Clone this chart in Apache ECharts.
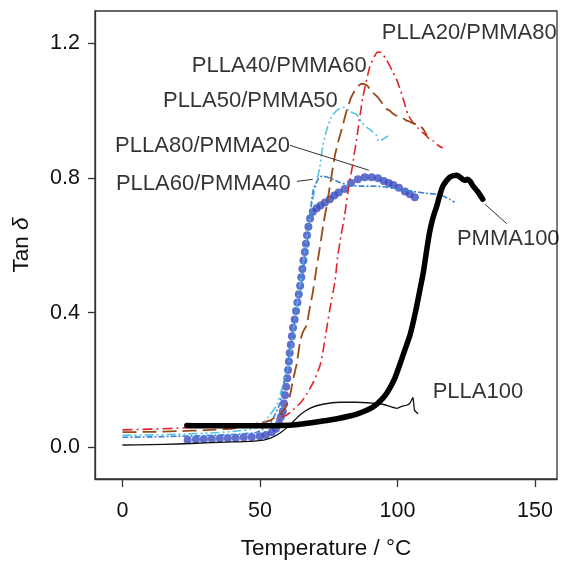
<!DOCTYPE html>
<html>
<head>
<meta charset="utf-8">
<script src="https://cdn.jsdelivr.net/npm/echarts@6/dist/echarts.min.js"></script>
<style>
  html, body { margin: 0; padding: 0; background: #fff; }
  #chart { width: 562px; height: 565px; }
</style>
</head>
<body>
<div id="chart"></div>
<script>
// Tan delta versus temperature for PLLA/PMMA blends
const xTicks = [0, 50, 100, 150];
const yTicks = [0.0, 0.4, 0.8, 1.2];

const plla20pmma80 = [[0,0.052],[10,0.054],[20,0.057],[30,0.061],[40,0.065],[48,0.07],[52,0.076],[56,0.084],[59.7,0.096],[62.5,0.115],[65,0.135],[67,0.158],[69.5,0.195],[71.7,0.24],[72.8,0.28],[74,0.34],[75.4,0.41],[77.2,0.49],[78.3,0.57],[79.5,0.63],[80.8,0.69],[82.2,0.77],[83.5,0.83],[85.2,0.92],[87.4,1.04],[89.9,1.13],[91.5,1.16],[92.8,1.174],[94,1.173],[96.1,1.15],[98,1.12],[99.8,1.09],[101.9,1.04],[103.7,0.99],[105.6,0.965],[107.5,0.948],[109.2,0.935],[110.5,0.925],[111.7,0.915],[113,0.91],[114.3,0.9],[115.5,0.893],[116.5,0.89]];

const plla40pmma60 = [[0,0.045],[10,0.046],[20,0.048],[30,0.051],[40,0.056],[48.8,0.066],[52,0.075],[54.7,0.085],[57,0.097],[58.3,0.107],[59.7,0.125],[60.8,0.15],[62,0.2],[63.4,0.25],[64.5,0.31],[65.5,0.34],[67,0.365],[68,0.41],[69.2,0.46],[70.5,0.53],[71.7,0.59],[73,0.66],[74.3,0.72],[75.4,0.775],[77.2,0.865],[78.5,0.91],[79.7,0.944],[81,0.985],[81.9,1.01],[83.2,1.04],[84.5,1.06],[86,1.075],[87.1,1.08],[88.9,1.075],[90.7,1.056],[92.8,1.04],[94.6,1.02],[96,1.005],[97.2,1.0],[98.5,0.99],[99.7,0.985],[101.9,0.978],[103,0.972],[104.5,0.967],[105.8,0.962],[107,0.96],[108,0.955],[108.8,0.95],[109.8,0.94],[110.7,0.925]];

const plla50pmma50 = [[0,0.036],[10,0.037],[20,0.039],[30,0.042],[40,0.047],[48.8,0.058],[52.5,0.085],[56.1,0.126],[58.3,0.185],[60,0.235],[61.2,0.29],[62,0.343],[63.8,0.44],[65.6,0.54],[67.4,0.64],[69.2,0.737],[70.5,0.785],[71.7,0.83],[72.8,0.894],[74.3,0.944],[76.1,0.983],[78.3,1.003],[80.8,1.01],[82.7,0.997],[85.2,0.988],[87,0.965],[88.9,0.95],[90.6,0.94],[92.5,0.925],[93,0.91],[94.7,0.915],[96.5,0.925]];

const plla60pmma40 = [[0,0.03],[10,0.031],[20,0.033],[30,0.035],[40,0.038],[48.8,0.045],[53.6,0.07],[57.2,0.13],[60.1,0.25],[62.7,0.38],[64.5,0.45],[65.6,0.52],[67,0.6],[68.3,0.7],[69.4,0.765],[71.2,0.797],[72.7,0.806],[75.4,0.8],[79,0.787],[82.7,0.778],[87,0.776],[91,0.776],[97.2,0.772],[101,0.766],[105.6,0.76],[110,0.755],[115.4,0.75],[119,0.737],[120.8,0.728]];

const plla80pmma20 = [[23.7,0.022],[26.7,0.023],[29.6,0.024],[32.5,0.025],[35.4,0.026],[38.3,0.027],[41.2,0.028],[44.1,0.03],[47,0.031],[49.9,0.033],[52.1,0.037],[54.3,0.045],[55.8,0.055],[56.9,0.07],[57.6,0.09],[58.3,0.107],[58.7,0.13],[59.1,0.155],[59.5,0.18],[59.9,0.205],[60.2,0.23],[60.5,0.255],[60.8,0.28],[61.2,0.305],[61.6,0.33],[62,0.355],[62.6,0.38],[63.1,0.405],[63.6,0.43],[64.1,0.455],[64.6,0.48],[65,0.505],[65.4,0.53],[65.8,0.555],[66.3,0.58],[66.7,0.605],[67.1,0.63],[67.6,0.655],[68.2,0.68],[69.2,0.7],[70.6,0.71],[72,0.718],[73.6,0.727],[75.4,0.737],[77,0.748],[78.6,0.757],[80.8,0.767],[83.1,0.785],[85.6,0.796],[88.1,0.802],[90.6,0.802],[92.9,0.799],[95,0.791],[96.8,0.785],[98.5,0.779],[100.5,0.771],[102.7,0.76],[104.5,0.752],[106.3,0.743]];

const plla100 = [[0,0.007],[10,0.008],[20,0.01],[30,0.013],[40,0.016],[48.8,0.019],[53.6,0.027],[57.2,0.042],[60.8,0.066],[64.5,0.096],[68.1,0.116],[72.8,0.128],[79,0.134],[85.2,0.134],[91,0.131],[94.6,0.128],[97.2,0.122],[99.7,0.116],[101.5,0.122],[103.3,0.125],[104.5,0.131],[105.6,0.148],[106.2,0.11],[107.5,0.1]];

const pmma100 = [[23.4,0.065],[30,0.064],[40,0.064],[50,0.064],[60.8,0.066],[66,0.07],[72.8,0.078],[78,0.085],[82.6,0.093],[86,0.101],[88.8,0.11],[91.5,0.122],[93.6,0.137],[95.5,0.154],[97.2,0.176],[99,0.205],[100.8,0.245],[102.7,0.29],[104.5,0.332],[105.8,0.375],[107,0.42],[108.2,0.47],[109.4,0.52],[110.6,0.585],[111.7,0.64],[113,0.685],[114.3,0.717],[115.4,0.75],[116.5,0.776],[117.8,0.792],[119,0.802],[120.3,0.807],[121.6,0.808],[122.7,0.803],[123.7,0.796],[124.6,0.793],[125.4,0.796],[126.4,0.79],[127.5,0.776],[129.3,0.758],[131,0.737]];

// curve labels anchored in data space: [text, x, y]
const labelsRight = [
  ['PLLA40/PMMA60', 88.8, 1.133],
  ['PLLA50/PMMA50', 78.3, 1.03],
  ['PLLA80/PMMA20', 60.9, 0.894],
  ['PLLA60/PMMA40', 61.2, 0.781]
];
const labelsLeft = [
  ['PLLA20/PMMA80', 94.3, 1.231],
  ['PMMA100', 121.6, 0.619],
  ['PLLA100', 112.8, 0.164]
];
// leader lines from labels to curves
const leaders = [
  [[60.9, 0.897], [89.6, 0.823]],
  [[63.4, 0.79], [69.2, 0.796]],
  [[131.8, 0.722], [139.8, 0.664]]
];

const FONT = '"Liberation Sans", Arial, Helvetica, sans-serif';
const TEXT = '#000';

function lineSeries(name, data, color, width, type, cap) {
  return {
    name, type: 'line', data, showSymbol: false, silent: true, smooth: 0.2,
    lineStyle: { color, width, type, cap: cap || 'butt', join: 'round' },
    animation: false
  };
}

const chart = echarts.init(document.getElementById('chart'), null, { renderer: 'canvas' });

chart.setOption({
  animation: false,
  backgroundColor: '#fff',
  grid: { left: 95, right: 5, top: 11, bottom: 84, show: true, borderColor: '#333', borderWidth: 1.3, backgroundColor: 'transparent' },
  xAxis: {
    type: 'value', min: -10, max: 158,
    splitLine: { show: false },
    axisLine: { show: true, onZero: false, lineStyle: { color: '#333', width: 1.3 } },
    axisTick: { show: true, length: 8, customValues: xTicks, lineStyle: { color: '#333', width: 1.3 } },
    axisLabel: { customValues: xTicks, fontSize: 21.5, fontFamily: FONT, color: '#111', margin: 21 },
    name: 'Temperature / °C', nameLocation: 'middle', nameGap: 58,
    nameTextStyle: { fontSize: 22.5, fontFamily: FONT, color: '#111' }
  },
  yAxis: {
    type: 'value', min: -0.094, max: 1.296,
    splitLine: { show: false },
    axisLine: { show: true, onZero: false, lineStyle: { color: '#333', width: 1.3 } },
    axisTick: { show: true, length: 7, customValues: yTicks, lineStyle: { color: '#333', width: 1.3 } },
    axisLabel: { customValues: yTicks, fontSize: 21.5, fontFamily: FONT, color: '#111', margin: 15,
      formatter: v => v.toFixed(1) },
    name: 'Tan {i|δ}', nameLocation: 'middle', nameGap: 62, nameRotate: 90,
    nameTextStyle: { fontSize: 22.5, fontFamily: FONT, color: '#111', padding: [0, 0, 0, 0],
      rich: { i: { fontSize: 22.5, fontFamily: FONT, fontStyle: 'italic', color: '#111' } } }
  },
  series: [
    lineSeries('PLLA20/PMMA80', plla20pmma80, '#e0262b', 1.6, [10, 4, 2, 4]),
    lineSeries('PLLA40/PMMA60', plla40pmma60, '#9a4a18', 1.8, [14, 6]),
    lineSeries('PLLA50/PMMA50', plla50pmma50, '#55c3e2', 1.6, [9, 3, 2, 3, 2, 3]),
    lineSeries('PLLA60/PMMA40', plla60pmma40, '#3b82d8', 1.6, [6, 2, 2, 2]),
    lineSeries('PLLA100', plla100, '#111', 1.3, 'solid'),
    {
      name: 'PLLA80/PMMA20', type: 'scatter', data: plla80pmma20, silent: true,
      symbol: 'circle', symbolSize: 8, itemStyle: { color: '#3a4cbf' }
    },
    lineSeries('PMMA100', pmma100, '#000', 5.5, 'solid', 'round'),
    {
      name: 'labelsR', type: 'scatter', silent: true, symbolSize: 0,
      data: labelsRight.map(d => ({ name: d[0], value: [d[1], d[2]] })),
      label: { show: true, position: 'left', distance: 0, formatter: p => p.name,
        fontSize: 22, fontFamily: FONT, color: TEXT },
      markLine: {
        silent: true, symbol: 'none', label: { show: false },
        lineStyle: { color: '#333', width: 1, type: 'solid' },
        data: leaders.map(l => [{ coord: l[0] }, { coord: l[1] }])
      }
    },
    {
      name: 'labelsL', type: 'scatter', silent: true, symbolSize: 0,
      data: labelsLeft.map(d => ({ name: d[0], value: [d[1], d[2]] })),
      label: { show: true, position: 'right', distance: 0, formatter: p => p.name,
        fontSize: 22, fontFamily: FONT, color: TEXT }
    }
  ]
});
</script>
</body>
</html>
